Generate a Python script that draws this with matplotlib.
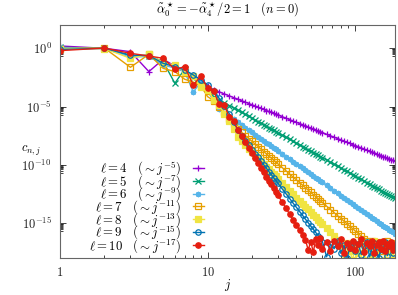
import numpy as np
import matplotlib
matplotlib.use("Agg")
import matplotlib.pyplot as plt
from matplotlib.ticker import FixedLocator, FixedFormatter, NullFormatter

plt.rcParams['mathtext.fontset'] = 'cm'
plt.rcParams['font.family'] = 'serif'

# mode index j
j_vals = [1, 2, 3, 4, 5, 6, 7, 8, 9, 10,
          11, 12, 13, 14, 15, 16, 17, 18, 19, 20,
          21, 22, 23, 24, 25, 26, 27, 28, 29, 30,
          32, 34, 36, 38, 40, 42, 44, 46, 48, 50,
          52, 54, 56, 58, 60,
          64, 68, 72, 76, 80, 84, 88, 92, 96, 100,
          105, 110, 115, 120, 125, 130, 135, 140, 145, 150,
          155, 160, 165, 170, 175, 180, 185]

# log10(c_{n,j}), one list per ell
log_c4 = [0.2, 0.0, -0.29, -2.0, -0.94, -1.52, -1.95, -2.29, -2.72, -3.24,
          -3.55, -3.74, -3.92, -4.08, -4.23, -4.37, -4.50, -4.62, -4.74, -4.85,
          -4.96, -5.06, -5.16, -5.25, -5.34, -5.42, -5.50, -5.58, -5.66, -5.73,
          -5.87, -6.00, -6.13, -6.25, -6.36, -6.46, -6.56, -6.66, -6.75, -6.84,
          -6.93, -7.00, -7.09, -7.16, -7.24,
          -7.38, -7.51, -7.63, -7.75, -7.86, -7.97, -8.07, -8.17, -8.26, -8.35,
          -8.45, -8.55, -8.65, -8.74, -8.83, -8.92, -9.00, -9.08, -9.15, -9.23,
          -9.30, -9.37, -9.43, -9.50, -9.56, -9.62, -9.68]
log_c5 = [0.09, -0.02, -0.64, -0.62, -1.15, -3.0, -1.78, -2.55, -3.06, -3.58,
          -4.16, -4.43, -4.68, -4.91, -5.12, -5.32, -5.50, -5.68, -5.85, -6.01,
          -6.16, -6.30, -6.44, -6.57, -6.70, -6.82, -6.93, -7.04, -7.15, -7.26,
          -7.46, -7.64, -7.82, -7.99, -8.14, -8.29, -8.44, -8.58, -8.71, -8.83,
          -8.95, -9.07, -9.18, -9.29, -9.39,
          -9.59, -9.78, -9.96, -10.13, -10.28, -10.43, -10.57, -10.71, -10.84, -10.97,
          -11.12, -11.26, -11.40, -11.53, -11.66, -11.78, -11.89, -12.01, -12.11, -12.22,
          -12.32, -12.42, -12.51, -12.60, -12.70, -12.78, -12.87]
log_c6 = [0.07, -0.03, -0.75, -0.7, -1.43, -1.7, -2.03, -3.75, -2.9, -3.7,
          -4.5, -5.22, -5.54, -5.82, -6.09, -6.35, -6.58, -6.81, -7.02, -7.22,
          -7.41, -7.59, -7.77, -7.93, -8.09, -8.25, -8.39, -8.53, -8.67, -8.80,
          -9.06, -9.29, -9.51, -9.73, -9.93, -10.12, -10.30, -10.48, -10.64, -10.80,
          -10.95, -11.10, -11.24, -11.38, -11.51,
          -11.76, -12.01, -12.22, -12.44, -12.64, -12.83, -13.01, -13.19, -13.35, -13.51,
          -13.70, -13.88, -14.06, -14.22, -14.38, -14.54, -14.68, -14.82, -14.96, -15.09,
          -15.22, -15.35, -15.46, -15.58, -15.70, -15.81, -15.91]
log_c7 = [-0.02, 0.02, -1.63, -0.52, -1.72, -2.0, -2.66, -2.9, -3.24, -4.15,
          -4.5, -5.0, -5.5, -6.1, -6.5, -6.9, -7.21, -7.49, -7.75, -7.99,
          -8.22, -8.44, -8.66, -8.86, -9.06, -9.25, -9.42, -9.60, -9.76, -9.93,
          -10.24, -10.52, -10.80, -11.06, -11.30, -11.53, -11.75, -11.97, -12.17, -12.37,
          -12.56, -12.73, -12.91, -13.07, -13.24,
          -13.55, -13.84, -14.11, -14.37, -14.61, -14.84, -15.06, -15.28, -15.48, -15.68,
          -15.91, -16.13, -16.35, -16.55, -16.9, -16.5, -17.3, -16.7, -17.0, -16.6,
          -17.4, -16.8, -16.5, -17.1, -16.7, -17.5, -16.9]
log_c8 = [-0.03, -0.02, -0.86, -0.52, -1.24, -1.43, -2.03, -2.38, -3.35, -3.58,
          -4.4, -4.9, -5.6, -6.2, -6.9, -7.63, -7.97, -8.30, -8.61, -8.89,
          -9.17, -9.43, -9.69, -9.92, -10.15, -10.38, -10.58, -10.79, -10.99, -11.18,
          -11.55, -11.88, -12.21, -12.52, -12.81, -13.08, -13.34, -13.60, -13.83, -14.07,
          -14.29, -14.50, -14.70, -14.90, -15.09,
          -15.46, -15.81, -16.12, -16.43, -17.0, -18.3, -16.7, -17.4, -18.2, -16.9,
          -17.6, -16.6, -18.2, -17.1, -16.8, -17.9, -16.5, -17.3, -18.3, -16.9,
          -17.2, -18.2, -16.7, -17.5, -16.9, -18.2, -17.0]
log_c9 = [-0.1, 0.0, -0.58, -0.62, -1.29, -1.58, -1.86, -2.29, -2.72, -3.15,
          -3.7, -4.3, -4.95, -5.6, -6.3, -7.0, -7.53, -7.94, -8.33, -8.70,
          -9.04, -9.37, -9.70, -10.0, -10.30, -10.58, -10.84, -11.11, -11.35, -11.60,
          -12.06, -12.49, -12.90, -13.30, -13.66, -14.01, -14.34, -14.67, -14.97, -15.26,
          -15.54, -15.81, -16.07, -16.32, -16.6,
          -17.9, -16.8, -17.2, -16.5, -17.6, -16.9, -18.0, -17.1, -16.6, -17.4,
          -16.8, -17.7, -17.0, -16.6, -17.9, -17.2, -16.7, -17.5, -18.0, -16.9,
          -17.3, -16.6, -17.8, -17.0, -16.8, -17.6, -17.1]
log_c10 = [-0.2, 0.02, -0.43, -0.66, -0.86, -1.8, -1.58, -3.15, -2.38, -3.4,
           -3.7, -4.8, -4.9, -5.9, -6.2, -7.0, -7.57, -8.08, -8.57, -9.02,
           -9.45, -9.86, -10.27, -10.64, -11.01, -11.36, -11.69, -12.01, -12.32, -12.63,
           -13.20, -13.74, -14.25, -14.74, -15.19, -15.62, -16.03, -16.44, -17.3, -16.6,
           -17.5, -16.4, -16.9, -16.3, -17.2,
           -16.6, -17.4, -16.5, -17.0, -16.4, -17.6, -16.7, -17.1, -16.5, -17.3,
           -16.8, -16.4, -17.5, -16.7, -17.0, -16.5, -17.6, -16.9, -16.6, -17.2,
           -16.5, -17.4, -16.8, -17.0, -16.6, -17.3, -16.9]

ells = [4, 5, 6, 7, 8, 9, 10]
slopes = [5, 7, 9, 11, 13, 15, 17]
series = [log_c4, log_c5, log_c6, log_c7, log_c8, log_c9, log_c10]

colors = ["#9400d3", "#009e73", "#56b4e9", "#e69f00", "#f0e442", "#0072b2", "#e51e10"]
markers = ["+", "x", (8, 2, 0), "s", "s", "o", "o"]
filled = [True, True, True, False, True, False, True]

fig = plt.figure(figsize=(3.98, 2.95), dpi=100)
ax = fig.add_axes([60 / 398, 37 / 295, 335 / 398, 233 / 295])

for ell, p, lc, col, mk, fl in zip(ells, slopes, series, colors, markers, filled):
    ax.plot(j_vals, 10.0 ** np.array(lc), color=col, lw=1.0, marker=mk,
            ms=3.9, mew=0.9, mfc=col if fl else "none", mec=col,
            label=r"$\ell = %d \quad (\sim j^{-%d})$" % (ell, p))

ax.set_xscale("log")
ax.set_yscale("log")
ax.set_xlim(1, 186)
ax.set_ylim(1e-18, 1e2)

ax.xaxis.set_major_locator(FixedLocator([1, 10, 100]))
ax.xaxis.set_major_formatter(FixedFormatter([r"$1$", r"$10$", r"$100$"]))
ax.xaxis.set_minor_locator(FixedLocator([m * 10 ** k for k in range(3) for m in range(2, 10)]))
ax.xaxis.set_minor_formatter(NullFormatter())

yt = [0, -5, -10, -15]
ax.yaxis.set_major_locator(FixedLocator([10.0 ** k for k in yt]))
ax.yaxis.set_major_formatter(FixedFormatter([r"$10^{%d}$" % k for k in yt]))
ax.yaxis.set_minor_locator(FixedLocator([m * 10.0 ** (k - 1) for k in yt for m in range(2, 10)]))
ax.yaxis.set_minor_formatter(NullFormatter())

ax.tick_params(which="both", direction="in", top=True, right=True,
               labelsize=9, colors="#222222", width=0.6)
ax.tick_params(which="major", length=4, pad=6)
ax.tick_params(which="minor", length=2)
for s in ax.spines.values():
    s.set_color("#666666")
    s.set_linewidth(0.8)

ax.set_xlabel(r"$j$", fontsize=9)
ax.xaxis.set_label_coords(0.5, -0.08)
ax.set_ylabel(r"$c_{n,j}$", fontsize=9, rotation=0)
ax.yaxis.set_label_coords(-0.085, 0.43)

fig.text(227.5 / 398, 1 - 9 / 295,
         r"$\tilde{\alpha}^\star_0 = -\tilde{\alpha}^\star_4/2 = 1 \quad (n = 0)$",
         ha="center", va="center", fontsize=9)

ax.legend(loc="lower right", bbox_to_anchor=(0.43, 0.015), frameon=False,
          markerfirst=False, handlelength=0.9, handletextpad=0.9,
          labelspacing=-0.42, borderpad=0, borderaxespad=0, fontsize=9.2,
          numpoints=1)

fig.savefig("out.png", dpi=100)
